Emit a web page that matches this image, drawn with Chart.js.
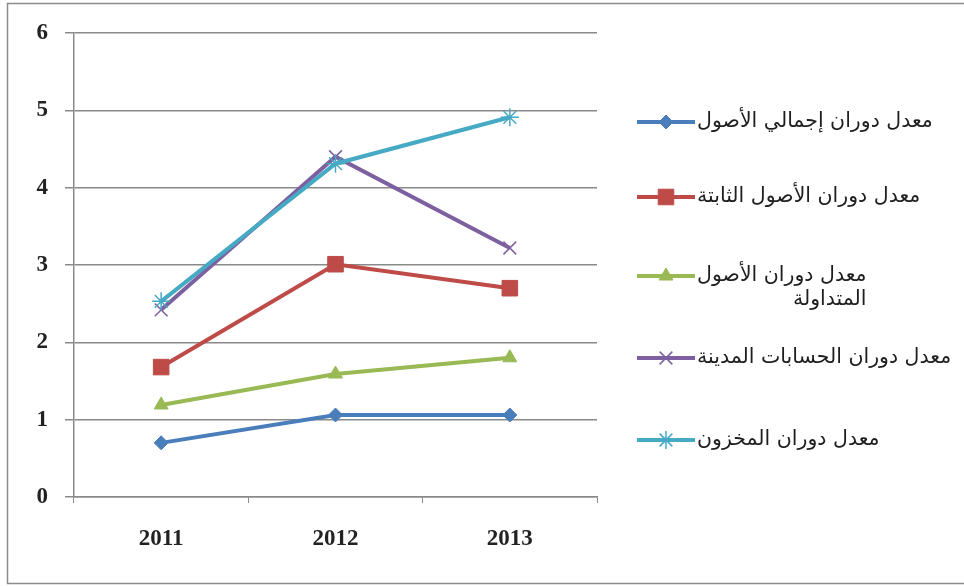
<!DOCTYPE html>
<html>
<head>
<meta charset="utf-8">
<script src="https://cdn.jsdelivr.net/npm/chart.js@4"></script>
<style>
  body { margin:0; background:#fff; }
  canvas { display:block; }
</style>
</head>
<body>
<canvas id="chart" width="964" height="586"></canvas>
<script>
/* ---- data ---- */
const years = ['2011', '2012', '2013'];
const yTicks = [0, 1, 2, 3, 4, 5, 6];

const totalAssets   = [0.70, 1.06, 1.06];   // إجمالي الأصول
const fixedAssets   = [1.68, 3.01, 2.70];   // الأصول الثابتة
const currentAssets = [1.19, 1.59, 1.80];   // الأصول المتداولة
const receivables   = [2.42, 4.40, 3.22];   // الحسابات المدينة
const inventory     = [2.53, 4.31, 4.91];   // المخزون

const seriesNames = [
  'معدل دوران إجمالي الأصول',
  'معدل دوران الأصول الثابتة',
  ['معدل دوران الأصول', 'المتداولة'],
  'معدل دوران الحسابات المدينة',
  'معدل دوران المخزون'
];

/* ---- look ---- */
const COLORS = ['#4A7EBB', '#BE4B48', '#98B954', '#7D60A0', '#46AAC5'];
const STYLES = ['rectRot', 'rect', 'triangle', 'crossRot', 'star'];
const RADII  = [7, 11, 8, 9, 9];
const GRID   = '#8a8a8a';

const $ = id => document.getElementById(id);

function makeSet(i, data){
  const line = STYLES[i] === 'crossRot' || STYLES[i] === 'star';
  return {
    label: seriesNames[i],
    data,
    borderColor: COLORS[i],
    backgroundColor: COLORS[i],
    borderWidth: 4,
    pointStyle: STYLES[i],
    pointRadius: RADII[i],
    pointBorderWidth: line ? 1.5 : 1,
    pointBorderColor: COLORS[i],
    pointBackgroundColor: COLORS[i],
    tension: 0,
    order: 5 - i
  };
}

/* frame round the whole chart */
const framePlugin = {
  id: 'frame',
  beforeDraw(c){
    const ctx = c.ctx;
    ctx.save();
    ctx.fillStyle = '#fff';
    ctx.fillRect(0, 0, c.width, c.height);
    ctx.strokeStyle = '#8c8c8c';
    ctx.lineWidth = 1.5;
    ctx.strokeRect(7.5, 3.5, c.width + 20, 580);
    ctx.restore();
  }
};

/* legend on the right: line sample with marker, text beside it */
const sideLegend = {
  id: 'sideLegend',
  afterDraw(c){
    const ctx = c.ctx;
    const x0 = 637, x1 = 695, tx = 697;
    const rows = [122, 197, 276, 358, 440];
    ctx.save();
    c.data.datasets.forEach((ds, i) => {
      const y = rows[i];
      ctx.strokeStyle = ds.borderColor;
      ctx.lineWidth = 4;
      ctx.beginPath(); ctx.moveTo(x0, y); ctx.lineTo(x1, y); ctx.stroke();
      ctx.fillStyle = ds.backgroundColor;
      ctx.strokeStyle = ds.borderColor;
      ctx.lineWidth = ds.pointBorderWidth;
      Chart.helpers.drawPoint(ctx, {
        pointStyle: ds.pointStyle, radius: ds.pointRadius, rotation: 0,
        borderWidth: ds.pointBorderWidth
      }, 666, y);

      ctx.fillStyle = '#1e1e1e';
      ctx.font = '20.5px "DejaVu Sans"';
      ctx.textBaseline = 'middle';
      const lines = Array.isArray(ds.label) ? ds.label : [ds.label];
      const w = ctx.measureText(lines[0]).width;
      lines.forEach((t, k) => {
        ctx.textAlign = k === 0 ? 'left' : 'right';
        ctx.fillText(t, k === 0 ? tx : tx + w, y + k * 24);
      });
    });
    ctx.restore();
  }
};

const tickFont = { family: '"Liberation Serif"', size: 23, weight: 'bold' };

chart = new Chart($('chart'), {
  type: 'line',
  data: {
    labels: years,
    datasets: [
      makeSet(0, totalAssets),
      makeSet(1, fixedAssets),
      makeSet(2, currentAssets),
      makeSet(3, receivables),
      makeSet(4, inventory)
    ]
  },
  options: {
    responsive: false,
    animation: false,
    layout: { padding: { left: 0, top: 33, right: 367, bottom: 0 } },
    plugins: { legend: { display: false }, tooltip: { enabled: false } },
    scales: {
      x: {
        offset: true,
        grid: { offset: true, drawOnChartArea: false, drawTicks: true, tickLength: 6, color: GRID },
        border: { color: GRID, width: 1.5 },
        ticks: { color: '#222', font: tickFont, padding: 22 },
        afterFit: s => { s.height = 89; }
      },
      y: {
        min: 0, max: 6,
        afterBuildTicks: s => { s.ticks = yTicks.map(v => ({ value: v })); },
        grid: { color: GRID, lineWidth: 1.5, tickLength: 9 },
        border: { color: GRID, width: 1.5 },
        ticks: { color: '#222', font: tickFont, padding: 17 },
        afterFit: s => { s.width = 74; }
      }
    }
  },
  plugins: [framePlugin, sideLegend]
});
</script>
</body>
</html>
